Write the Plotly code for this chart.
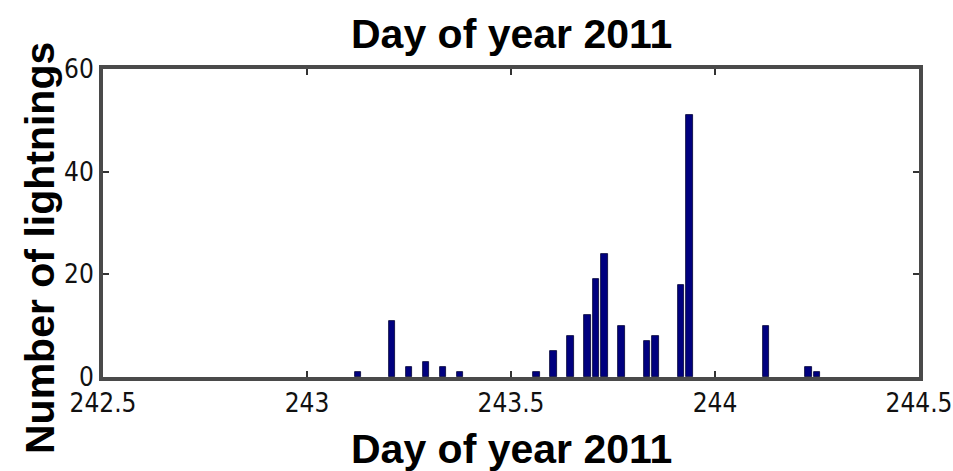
import plotly.graph_objects as go

# Half-hour bins (day of year 2011) that recorded lightning, and their counts
bin_day = [
    243.125, 243.2083, 243.25, 243.2917, 243.3333, 243.375,
    243.5625, 243.6042, 243.6458, 243.6875, 243.7083, 243.7292,
    243.7708, 243.8333, 243.8542, 243.9167, 243.9375,
    244.125, 244.2292, 244.25,
]
lightning_count = [
    1, 11, 2, 3, 2, 1,
    1, 5, 8, 12, 19, 24,
    10, 7, 8, 18, 51,
    10, 2, 1,
]
bin_width = 1 / 48  # 30 minutes in days

x_ticks = [242.5, 243, 243.5, 244, 244.5]
x_tick_text = ["242.5", "243", "243.5", "244", "244.5"]
y_ticks = [0, 20, 40, 60]
y_tick_text = ["0", "20", "40", "60"]

label_font = dict(family="Liberation Sans, Arial, sans-serif", size=41, color="#000000")
tick_font = dict(family="Liberation Sans Narrow, DejaVu Sans Condensed, Liberation Sans, sans-serif",
                 size=26, color="#111111")

fig = go.Figure(
    go.Bar(
        x=bin_day,
        y=lightning_count,
        width=bin_width * 0.8,
        marker=dict(color="#00007f", line=dict(color="#000033", width=0.8)),
    )
)

axis_common = dict(
    showline=True,
    linecolor="#4a4a4a",
    linewidth=4,
    mirror="ticks",
    ticks="inside",
    ticklen=6,
    tickwidth=2,
    tickcolor="#333333",
    showgrid=False,
    zeroline=False,
    automargin=False,
    tickfont=tick_font,
)

fig.update_layout(
    width=953,
    height=471,
    margin=dict(l=103, r=34, t=69, b=94, autoexpand=False),
    paper_bgcolor="white",
    plot_bgcolor="white",
    showlegend=False,
    bargap=0,
    xaxis=dict(range=[242.5, 244.5], tickvals=x_ticks, ticktext=x_tick_text,
               ticklabelstandoff=0, **axis_common),
    yaxis=dict(range=[0, 60], tickvals=y_ticks, ticktext=y_tick_text,
               ticklabelstandoff=0, **axis_common),
    annotations=[
        dict(text="<b>Day of year 2011</b>", xref="paper", yref="paper",
             x=0.5, y=1, yshift=69 - 34, yanchor="middle", xanchor="center",
             showarrow=False, font=label_font),
        dict(text="<b>Day of year 2011</b>", xref="paper", yref="paper",
             x=0.5, y=0, yshift=-(449 - 377), yanchor="middle", xanchor="center",
             showarrow=False, font=label_font),
        dict(text="<b>Number of lightnings</b>", xref="paper", yref="paper",
             x=0, xshift=-(103 - 40), y=0.5, yshift=-(248 - 223), textangle=-90,
             xanchor="center", yanchor="middle", showarrow=False, font=label_font),
    ],
)

fig.write_html("out.html")
